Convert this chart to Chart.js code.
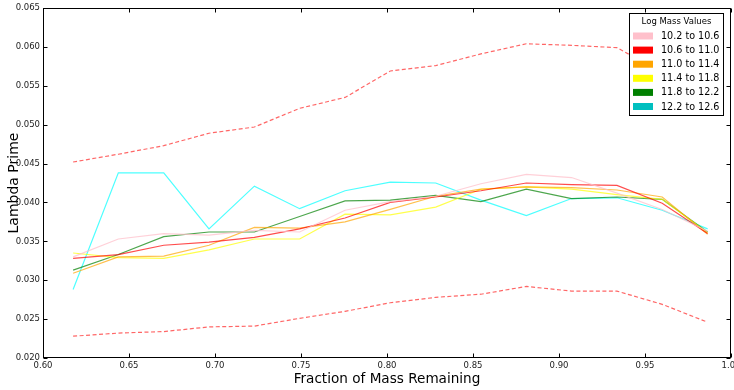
<!DOCTYPE html>
<html>
<head>
<meta charset="utf-8">
<script src="https://cdn.jsdelivr.net/npm/chart.js@4"></script>
<style>
  html, body { margin: 0; padding: 0; background: #fff; }
  #wrap { width: 734px; height: 390px; }
</style>
</head>
<body>
<div id="wrap"><canvas id="c" width="734" height="390"></canvas></div>
<script>
// ---- data ----
const fractionRemaining = [0.6175, 0.6438, 0.6702, 0.6965, 0.7229, 0.7492, 0.7756, 0.8019, 0.8283, 0.8546, 0.8810, 0.9073, 0.9337, 0.9600, 0.9864];

const mass102to106 = [0.0330, 0.0353, 0.0360, 0.0358, 0.0364, 0.0362, 0.0390, 0.0401, 0.0408, 0.0424, 0.0436, 0.0432, 0.0412, 0.0391, 0.0363];
const mass106to110 = [0.0328, 0.0333, 0.0345, 0.0349, 0.0355, 0.0366, 0.0380, 0.0400, 0.0407, 0.0415, 0.0425, 0.0423, 0.0422, 0.0399, 0.0360];
const mass110to114 = [0.0309, 0.0330, 0.0331, 0.0345, 0.0368, 0.0367, 0.0375, 0.0391, 0.0408, 0.0417, 0.0420, 0.0419, 0.0416, 0.0407, 0.0359];
const mass114to118 = [0.0335, 0.0329, 0.0328, 0.0339, 0.0353, 0.0353, 0.0385, 0.0384, 0.0394, 0.0417, 0.0420, 0.0417, 0.0410, 0.0404, 0.0361];
const mass118to122 = [0.0313, 0.0333, 0.0356, 0.0362, 0.0362, 0.0382, 0.0402, 0.0403, 0.0409, 0.0401, 0.0417, 0.0405, 0.0407, 0.0404, 0.0362];
const mass122to126 = [0.0288, 0.0438, 0.0438, 0.0366, 0.0421, 0.0392, 0.0415, 0.0426, 0.0425, 0.0403, 0.0383, 0.0405, 0.0406, 0.0390, 0.0366];

const upperBound = [0.0452, 0.0462, 0.0473, 0.0489, 0.0497, 0.0521, 0.0535, 0.0569, 0.0576, 0.0591, 0.0604, 0.0602, 0.0599, 0.0567, 0.0512];
const lowerBound = [0.0228, 0.0232, 0.0234, 0.0240, 0.0241, 0.0251, 0.0260, 0.0271, 0.0278, 0.0282, 0.0292, 0.0286, 0.0286, 0.0269, 0.0246];

const legendTitle = "Log Mass Values";
const legendLabels = ["10.2 to 10.6", "10.6 to 11.0", "11.0 to 11.4", "11.4 to 11.8", "11.8 to 12.2", "12.2 to 12.6"];
const legendColors = ["#ffc0cb", "#ff0000", "#ffa500", "#ffff00", "#008000", "#00bfbf"];
const lineColors = ["rgba(255,192,203,0.75)", "rgba(255,0,0,0.7)", "rgba(255,165,0,0.7)", "rgba(255,255,0,0.7)", "rgba(0,128,0,0.7)", "rgba(0,255,255,0.7)"];

const xTitle = "Fraction of Mass Remaining";
const yTitle = "Lambda Prime";

// ---- build datasets ----
const seriesList = [mass102to106, mass106to110, mass110to114, mass114to118, mass118to122, mass122to126];
const toXY = arr => arr.map((v, i) => ({ x: fractionRemaining[i], y: v }));

const datasets = [];
datasets.push({ label: "upper", data: toXY(upperBound), borderColor: "rgba(255,0,0,0.6)", borderWidth: 1.2, borderDash: [4, 2.5], pointRadius: 0, tension: 0, fill: false });
datasets.push({ label: "lower", data: toXY(lowerBound), borderColor: "rgba(255,0,0,0.6)", borderWidth: 1.2, borderDash: [4, 2.5], pointRadius: 0, tension: 0, fill: false });
seriesList.forEach((s, k) => {
  datasets.push({ label: legendLabels[k], data: toXY(s), borderColor: lineColors[k], borderWidth: 1.2, pointRadius: 0, tension: 0, fill: false });
});

const FONT = "'DejaVu Sans', sans-serif";

const framePlugin = {
  id: "frame",
  afterDraw(chart) {
    const ctx = chart.ctx;
    const a = chart.chartArea;
    const xs = chart.scales.x, ys = chart.scales.y;
    ctx.save();
    ctx.strokeStyle = "#000";
    ctx.lineWidth = 1;
    const L = Math.round(a.left) + 0.5, R = Math.round(a.right) - 0.5;
    const T = Math.round(a.top) + 0.5, B = Math.round(a.bottom) - 0.5;
    ctx.strokeRect(L, T, R - L, B - T);
    const tl = 4;
    ctx.beginPath();
    xs.ticks.forEach(t => {
      const px = Math.round(xs.getPixelForValue(t.value)) + 0.5;
      ctx.moveTo(px, B); ctx.lineTo(px, B - tl);
      ctx.moveTo(px, T); ctx.lineTo(px, T + tl);
    });
    ys.ticks.forEach(t => {
      const py = Math.round(ys.getPixelForValue(t.value)) + 0.5;
      ctx.moveTo(L, py); ctx.lineTo(L + tl, py);
      ctx.moveTo(R, py); ctx.lineTo(R - tl, py);
    });
    ctx.stroke();

    // legend box (upper right)
    const bw = 94, bh = 102;
    const bx = Math.round(a.right) - 8 - bw + 0.5;
    const by = Math.round(a.top) + 5 + 0.5;
    ctx.fillStyle = "#fff";
    ctx.fillRect(bx, by, bw, bh);
    ctx.strokeStyle = "#000";
    ctx.strokeRect(bx, by, bw, bh);
    ctx.fillStyle = "#000";
    ctx.textBaseline = "middle";
    ctx.textAlign = "center";
    ctx.font = "8.5px " + FONT;
    ctx.fillText(legendTitle, bx + bw / 2, by + 8);
    ctx.textAlign = "left";
    ctx.font = "9.6px " + FONT;
    legendLabels.forEach((lab, k) => {
      const cy = by + 22.5 + k * 14.1;
      ctx.fillStyle = legendColors[k];
      ctx.fillRect(bx + 3.5, cy - 3.5, 20, 7);
      ctx.fillStyle = "#000";
      ctx.fillText(lab, bx + 31.5, cy + 0.5);
    });
    ctx.restore();
  }
};

new Chart(document.getElementById("c"), {
  type: "line",
  data: { datasets },
  options: {
    responsive: false,
    devicePixelRatio: 1,
    animation: false,
    layout: { padding: { top: 8, right: 3, left: 0, bottom: 0 } },
    plugins: { legend: { display: false }, tooltip: { enabled: false } },
    scales: {
      x: {
        type: "linear",
        min: 0.6, max: 1.0,
        grid: { display: false, drawTicks: false },
        border: { display: false },
        ticks: { stepSize: 0.05, padding: 3, color: "#222", font: { family: FONT, size: 8.5 }, maxRotation: 0,
                 callback: v => Number(v).toFixed(2) },
        title: { display: true, text: xTitle, color: "#000", font: { family: FONT, size: 13.6 }, padding: { top: 0, bottom: 2 } },
        afterFit(s) { s.height = 32; s.paddingLeft = 0; s.paddingRight = 0; }
      },
      y: {
        min: 0.02, max: 0.065,
        grid: { display: false, drawTicks: false },
        border: { display: false },
        ticks: { stepSize: 0.005, padding: 3, color: "#222", font: { family: FONT, size: 8.5 },
                 callback: v => Number(v).toFixed(3) },
        title: { display: true, text: yTitle, color: "#000", font: { family: FONT, size: 14 }, padding: { top: 6, bottom: 0 } },
        afterFit(s) { s.width = 43; s.paddingTop = 0; s.paddingBottom = 0; }
      }
    }
  },
  plugins: [framePlugin]
});
</script>
</body>
</html>
